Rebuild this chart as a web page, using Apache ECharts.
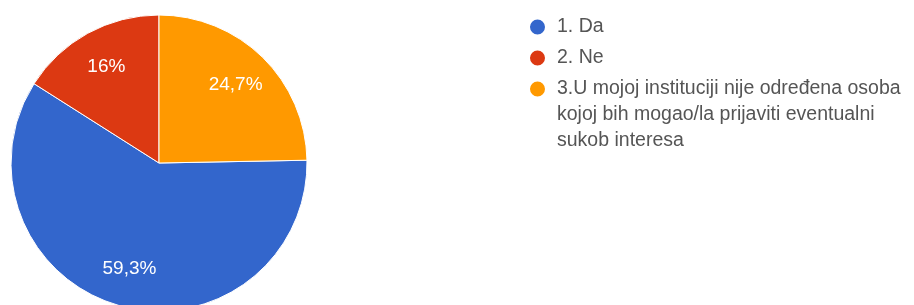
<!DOCTYPE html>
<html>
<head>
<meta charset="utf-8">
<script src="https://cdn.jsdelivr.net/npm/echarts@6/dist/echarts.min.js"></script>
<style>
  html, body { margin: 0; padding: 0; background: #fff; }
  #chart { width: 914px; height: 305px; }
</style>
</head>
<body>
<div id="chart"></div>
<script>
// answers and their share in percent
var categories = ['1. Da', '2. Ne', '3.U mojoj instituciji nije određena osoba kojoj bih mogao/la prijaviti eventualni sukob interesa'];
var percents = [59.3, 16, 24.7];
var colors = ['#3366cc', '#dc3912', '#ff9900'];
// words after which the long legend entry wraps
var wrapAfter = ['osoba', 'eventualni'];

var chart = echarts.init(document.getElementById('chart'));

var pieData = [];
for (var i = 0; i < categories.length; i++) {
  pieData.push({ name: categories[i], value: percents[i], itemStyle: { color: colors[i] } });
}

var cx = 159, cy = 163;
var font = 'Liberation Sans, Arial, sans-serif';

function wrapName(name) {
  var out = name;
  wrapAfter.forEach(function (w) { out = out.replace(w + ' ', w + '\n'); });
  return out;
}

var option = {
  backgroundColor: '#fff',
  animation: false,
  legend: [{
    data: [categories[0], categories[1]],
    orient: 'vertical',
    left: 528,
    top: 14,
    padding: 0,
    icon: 'circle',
    itemWidth: 17,
    itemHeight: 17,
    itemGap: 5,
    selectedMode: false,
    textStyle: {
      fontFamily: font, fontSize: 19.5, color: '#555', lineHeight: 26,
      padding: [0, 0, 0, 6]
    }
  }, {
    data: [categories[2]],
    orient: 'vertical',
    left: 528,
    top: 24,
    padding: 0,
    icon: 'circle',
    itemWidth: 17,
    itemHeight: 17,
    selectedMode: false,
    // two empty lines in front so the dot sits on the first real line
    formatter: function (name) { return '\n\n' + wrapName(name); },
    textStyle: {
      fontFamily: font, fontSize: 19.5, color: '#555', lineHeight: 26,
      padding: [0, 0, 0, 6]
    }
  }],
  series: [{
    type: 'pie',
    center: [cx, cy],
    radius: 148,
    startAngle: 90 - 24.7 * 3.6,
    clockwise: true,
    data: pieData,
    itemStyle: { borderColor: '#fff', borderWidth: 1 },
    label: {
      show: true,
      position: 'inside',
      color: '#fff',
      fontFamily: font,
      fontSize: 19,
      formatter: function (p) {
        return String(p.value).replace('.', ',') + '%';
      }
    },
    labelLine: { show: false },
    labelLayout: function (p) {
      var lx = p.labelRect.x + p.labelRect.width / 2;
      var ly = p.labelRect.y + p.labelRect.height / 2;
      return { dx: (lx - cx) * 0.42, dy: (ly - cy) * 0.42 };
    },
    emphasis: { disabled: true }
  }]
};

chart.setOption(option);
</script>
</body>
</html>
